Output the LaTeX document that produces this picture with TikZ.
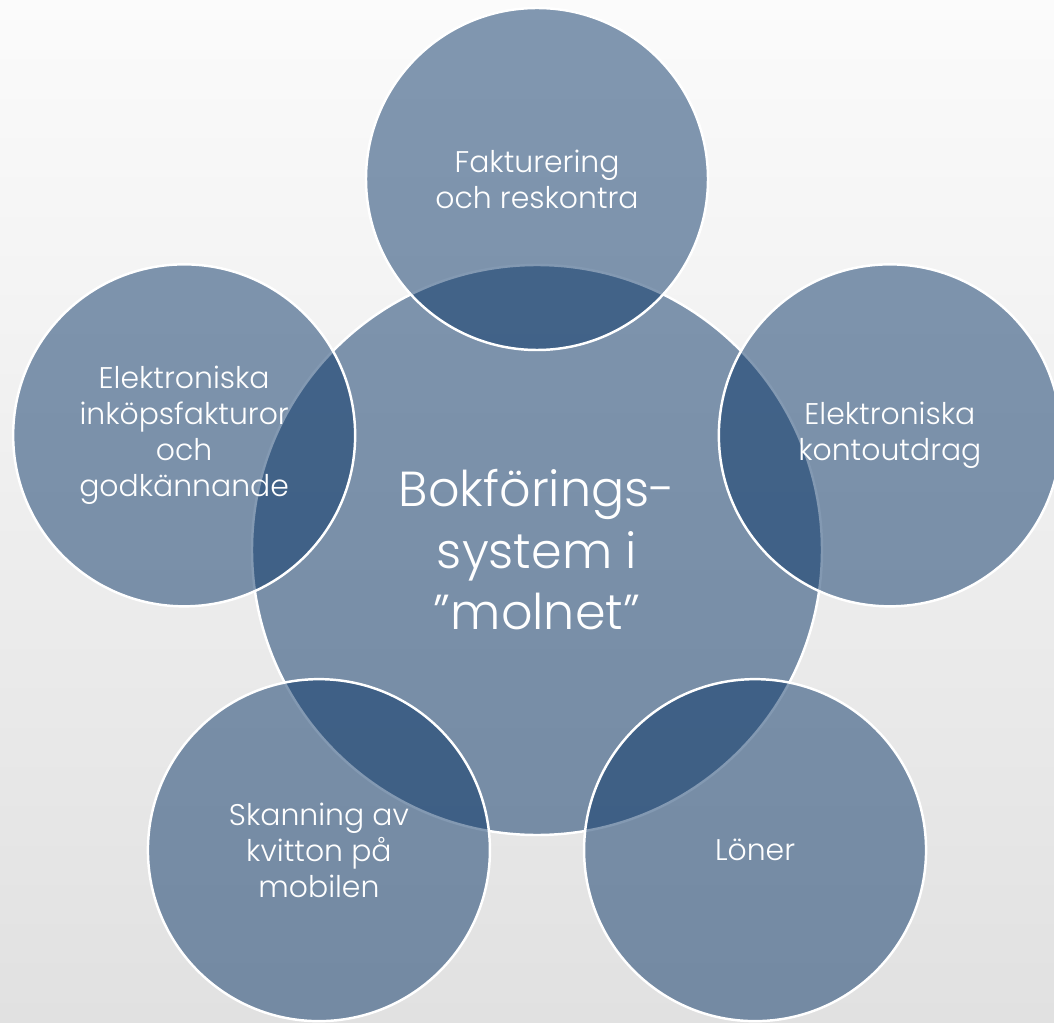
\documentclass[tikz,border=0pt]{standalone}
\usepackage{fontspec}
\setmainfont{Poppins Light}
\usetikzlibrary{shapes}
\definecolor{molnblue}{RGB}{8,52,102}
\definecolor{bgtop}{RGB}{251,251,251}
\definecolor{bgbottom}{RGB}{225,225,225}
\tikzset{
  hub/.style={circle, draw=white, line width=1.4pt, fill=molnblue, fill opacity=0.5,
    text opacity=1, text=white, minimum size=11.4cm, inner sep=0pt, align=center,
    font=\fontsize{28}{35}\selectfont},
  spoke/.style={hub, minimum size=6.84cm, font=\fontsize{17}{20.5}\selectfont}
}
\newcommand{\molnhub}[3] {\node at (#1) (#2) [hub] {#3};}
\newcommand{\molnspoke}[3] {\node at (#1) (#2) [spoke] {#3};}

\begin{document}
\begin{tikzpicture}
\shade [top color=bgtop, bottom color=bgbottom] (-10.74,11) rectangle (10.34,-9.44);
\useasboundingbox (-10.74,11) rectangle (10.34,-9.44);

\molnhub {0,0} {bok} {Bokförings-\\system i\\”molnet”}

\molnspoke {90:7.42} {fakt} {Fakturering\\och reskontra}
\molnspoke {18:7.42} {konto} {Elektroniska\\kontoutdrag}
\molnspoke {306:7.42} {lon} {Löner}
\molnspoke {234:7.42} {skann} {Skanning av\\kvitton på\\mobilen}
\molnspoke {162:7.42} {inkop} {Elektroniska\\inköpsfakturor\\och\\godkännande}
\end{tikzpicture}
\end{document}
